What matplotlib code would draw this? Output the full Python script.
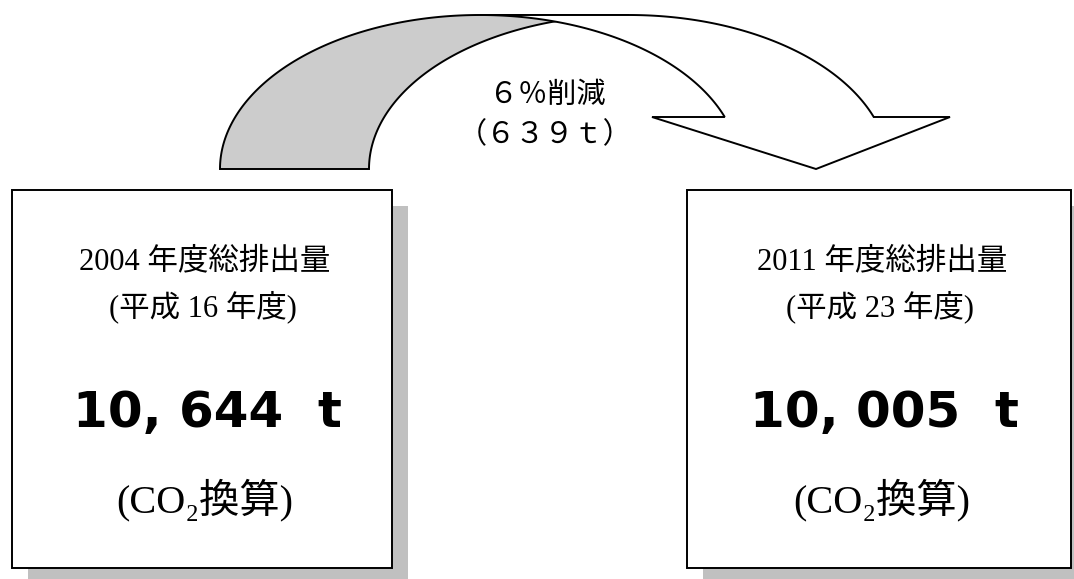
import numpy as np
import matplotlib
matplotlib.use("Agg")
import matplotlib.pyplot as plt
from matplotlib.patches import Rectangle, Polygon

# ---- data ----
fiscal_years = [2004, 2011]
heisei_years = [16, 23]
total_emissions_t = [10644, 10005]
reduction_pct = 6
reduction_t = 639

FW = str.maketrans("0123456789t%", "０１２３４５６７８９ｔ％")

W, H = 1074, 579
fig = plt.figure(figsize=(W / 100, H / 100), dpi=100)
ax = fig.add_axes([0, 0, 1, 1])
ax.set_xlim(0, W)
ax.set_ylim(H, 0)
ax.axis("off")

JP = ["Noto Sans CJK JP", "DejaVu Sans"]
SERIF_JP = ["Liberation Serif", "DejaVu Serif", "Noto Sans CJK JP"]

# ---- boxes with drop shadow ----
boxes = [(12, 190, 380, 378), (687, 190, 384, 378)]
shadow = 16
for i, (x, y, w, h) in enumerate(boxes):
    ax.add_patch(Rectangle((x + shadow, y + shadow), w, h, facecolor="#c0c0c0",
                           edgecolor="none", zorder=1))
    ax.add_patch(Rectangle((x, y), w, h, facecolor="white", edgecolor="black",
                           lw=1.4, zorder=2))
    cx = x + w / 2 + 3
    ax.text(cx, 262, f"{fiscal_years[i]} 年度総排出量", ha="center", va="center",
            fontsize=22, family=SERIF_JP, zorder=3)
    ax.text(cx - 2, 307, f"(平成 {heisei_years[i]} 年度)", ha="center", va="center",
            fontsize=22, family=SERIF_JP, zorder=3)
    v = total_emissions_t[i]
    ax.text(cx + 2, 413, f"{v // 1000}, {v % 1000:03d}  t", ha="center", va="center",
            fontsize=36, fontweight="bold", family=["DejaVu Sans"], zorder=3)
    ax.text(cx, 500, "(CO\u2082換算)", ha="center", va="center",
            fontsize=29, family=SERIF_JP, zorder=3)

# ---- curved down arrow ----
base_y, b, a = 169, 154, 260
cL, th = 480, 149
cR = cL + th
t1 = np.linspace(np.pi, np.pi / 2, 200)
t2 = np.linspace(np.pi / 2, np.pi, 200)
gx = np.concatenate([cL + a * np.cos(t1), cR + a * np.cos(t2)])
gy = np.concatenate([base_y - b * np.sin(t1), base_y - b * np.sin(t2)])
ax.add_patch(Polygon(np.column_stack([gx, gy]), closed=True, facecolor="#cccccc",
                     edgecolor="black", lw=1.4, joinstyle="miter", zorder=4))

shoulder_y = 117
ts = np.arcsin((base_y - shoulder_y) / b)
tR = np.linspace(np.pi / 2, ts, 200)
tLb = np.linspace(ts, np.pi / 2, 200)
head_x = [950, 816, 652]
head_y = [shoulder_y, base_y, shoulder_y]
wx = np.concatenate([cR + a * np.cos(tR), head_x, cL + a * np.cos(tLb)])
wy = np.concatenate([base_y - b * np.sin(tR), head_y, base_y - b * np.sin(tLb)])
ax.add_patch(Polygon(np.column_stack([wx, wy]), closed=True, facecolor="white",
                     edgecolor="black", lw=1.4, joinstyle="miter", zorder=5))

ax.text(547, 95, f"{reduction_pct}%".translate(FW) + "削減", ha="center", va="center",
        fontsize=21, family=JP, zorder=6)
ax.text(545, 135, "（" + f"{reduction_t}t".translate(FW) + "）", ha="center",
        va="center", fontsize=21, family=JP, zorder=6)

fig.savefig("out.png", dpi=100, facecolor="white")
